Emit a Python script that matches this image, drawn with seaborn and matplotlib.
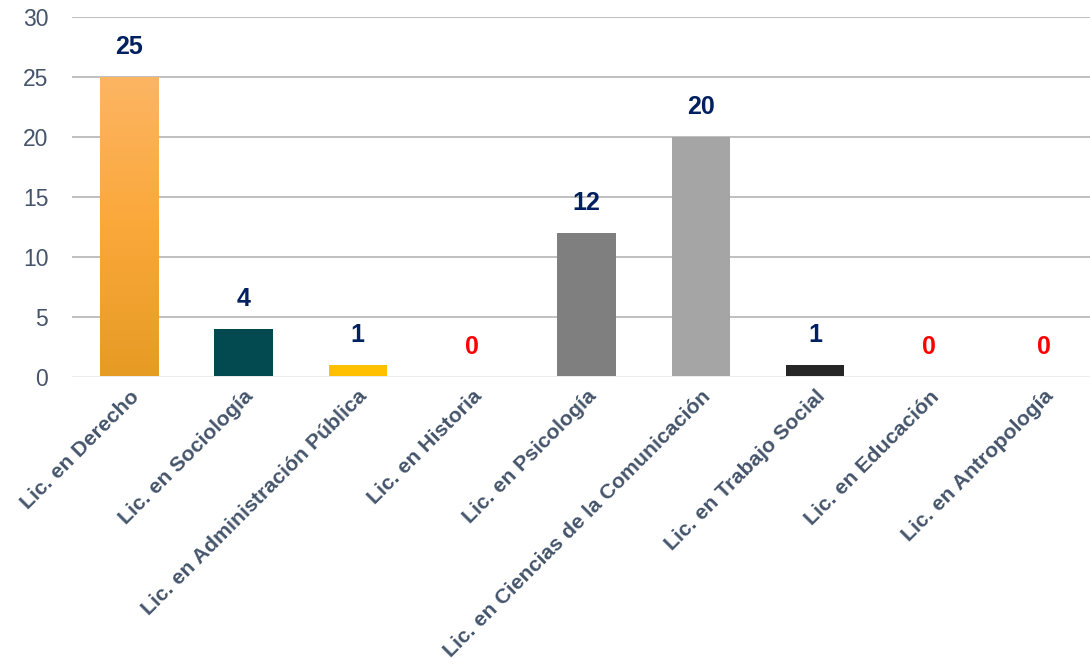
import numpy as np
import matplotlib
matplotlib.use('Agg')
import matplotlib.pyplot as plt
import seaborn as sns
import pandas as pd
from matplotlib.colors import LinearSegmentedColormap

# datos del grafico
carreras = ['Lic. en Derecho', 'Lic. en Sociología', 'Lic. en Administración Pública',
            'Lic. en Historia', 'Lic. en Psicología', 'Lic. en Ciencias de la Comunicación',
            'Lic. en Trabajo Social', 'Lic. en Educación', 'Lic. en Antropología']
valores = [25, 4, 1, 0, 12, 20, 1, 0, 0]
colores = ['#FBA83A', '#024A50', '#FFC000', '#FFFFFF', '#7F7F7F', '#A5A5A5',
           '#262626', '#FFFFFF', '#FFFFFF']

sns.set_style('white')
plt.rcParams['font.family'] = ['Liberation Sans', 'DejaVu Sans']

df = pd.DataFrame({'carrera': carreras, 'valor': valores})

fig = plt.figure(figsize=(10.9, 6.65), dpi=100)
ax = fig.add_axes([0.066, 0.433, 0.944, 0.541])

sns.barplot(data=df, x='carrera', y='valor', hue='carrera',
            palette=dict(zip(carreras, colores)), width=0.51, linewidth=0,
            legend=False, ax=ax, saturation=1, zorder=3)

# degradado en la primera barra
bar = ax.patches[0]
x0, y0 = bar.get_x(), bar.get_y()
w, h = bar.get_width(), bar.get_height()
cmap = LinearSegmentedColormap.from_list('naranja', ['#E69B24', '#FBA83A', '#FDB563'])
grad = np.linspace(0, 1, 256).reshape(-1, 1)
img = ax.imshow(grad, cmap=cmap, aspect='auto', origin='lower',
                extent=(x0, x0 + w, y0, y0 + h), zorder=4)
img.set_clip_path(bar)

ax.set_xlim(-0.5, len(carreras) - 0.5)
ax.set_ylim(0, 30)
ax.set_yticks(range(0, 31, 5))
ax.grid(axis='y', color='#BFBFBF', linewidth=1.4, zorder=0)
ax.axhline(0, color='#F0F0F0', linewidth=1.4, zorder=5)
for s in ax.spines.values():
    s.set_visible(False)

ax.set_xlabel('')
ax.set_ylabel('')
ax.tick_params(axis='y', length=0, pad=17, labelsize=16.5, labelcolor='#44546A')
ax.tick_params(axis='x', length=0, pad=7)
ax.set_xticks(range(len(carreras)))
ax.set_xticklabels(carreras, rotation=45, ha='right', rotation_mode='anchor',
                   fontsize=15.3, fontweight='bold', color='#44546A')

# etiquetas de valores
for i, v in enumerate(valores):
    ax.annotate(str(v), (i, v), xytext=(0, 13), textcoords='offset points',
                ha='center', va='bottom', fontsize=18, fontweight='bold',
                color='#FF0000' if v == 0 else '#002060', zorder=6)

fig.savefig('out.png', dpi=100)
